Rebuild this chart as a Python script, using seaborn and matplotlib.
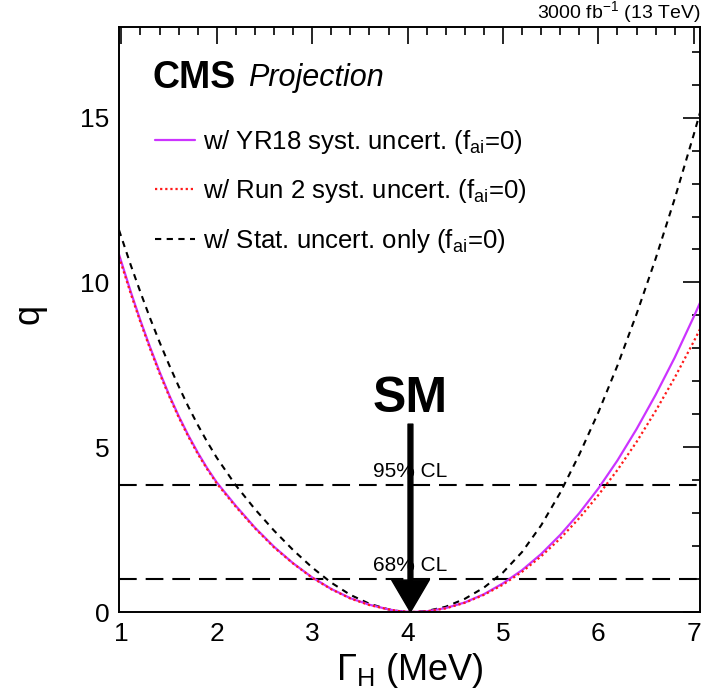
import matplotlib
matplotlib.use("Agg")
import matplotlib.pyplot as plt
from matplotlib.lines import Line2D
from matplotlib.ticker import MultipleLocator
import seaborn as sns

# Higgs width scan, test statistic q versus Gamma_H (MeV)
gamma_h = [0.975, 1.1, 1.2, 1.3, 1.4, 1.5, 1.6, 1.7, 1.8, 1.9, 2.0, 2.2, 2.4,
           2.6, 2.8, 3.0, 3.2, 3.4, 3.6, 3.8, 3.9, 4.05, 4.2, 4.4, 4.6, 4.8,
           5.0, 5.2, 5.4, 5.6, 5.8, 6.0, 6.2, 6.4, 6.6, 6.8, 7.0, 7.065]

q_yr18 = [10.85, 9.70, 8.84, 8.04, 7.29, 6.59, 5.95, 5.37, 4.84, 4.36, 3.93,
          3.22, 2.56, 1.98, 1.48, 1.05, 0.70, 0.42, 0.22, 0.08, 0.03, 0.0,
          0.02, 0.12, 0.29, 0.54, 0.87, 1.27, 1.76, 2.34, 3.00, 3.75, 4.60,
          5.55, 6.59, 7.72, 8.96, 9.38]

q_run2 = [10.78, 9.64, 8.79, 7.99, 7.24, 6.55, 5.91, 5.33, 4.80, 4.33, 3.90,
          3.19, 2.54, 1.96, 1.47, 1.04, 0.69, 0.41, 0.21, 0.08, 0.03, 0.0,
          0.02, 0.11, 0.28, 0.52, 0.83, 1.22, 1.69, 2.23, 2.85, 3.55, 4.31,
          5.16, 6.10, 7.11, 8.21, 8.58]

q_stat = [11.59, 10.51, 9.70, 8.92, 8.19, 7.50, 6.85, 6.24, 5.68, 5.16, 4.68,
          3.84, 3.12, 2.47, 1.88, 1.35, 0.89, 0.52, 0.25, 0.08, 0.03, 0.0,
          0.03, 0.16, 0.40, 0.74, 1.20, 1.82, 2.63, 3.62, 4.78, 6.06, 7.48,
          9.04, 10.72, 12.54, 14.49, 15.15]

series_labels = [
    r"w/ YR18 syst. uncert. (f$_{\rm ai}$=0)",
    r"w/ Run 2 syst. uncert. (f$_{\rm ai}$=0)",
    r"w/ Stat. uncert. only (f$_{\rm ai}$=0)",
]

cl_levels = [1.0, 3.84]
cl_labels = ["68% CL", "95% CL"]
gamma_sm = 4.05

sns.set_theme(style="white")
plt.rcParams["font.family"] = ["Liberation Sans", "DejaVu Sans"]
plt.rcParams["mathtext.fontset"] = "custom"
plt.rcParams["mathtext.rm"] = "Liberation Sans"
plt.rcParams["mathtext.it"] = "Liberation Sans:italic"
plt.rcParams["mathtext.bf"] = "Liberation Sans:bold"
for key in ["text.color", "axes.labelcolor", "xtick.color", "ytick.color",
            "axes.edgecolor"]:
    plt.rcParams[key] = "black"

fig = plt.figure(figsize=(7.05, 6.92), dpi=100)
ax = fig.add_axes([0.1688, 0.1156, 0.8241, 0.8454])

c_yr18 = "#CC33FF"
c_run2 = "#FF1A1A"
c_stat = "black"

# confidence-level reference lines
for lvl in cl_levels:
    ax.axhline(lvl, color="black", lw=1.5, dashes=(8.5, 4.3), zorder=1)

sns.lineplot(x=gamma_h, y=q_stat, ax=ax, color=c_stat, lw=1.5,
             estimator=None, sort=False)
ax.lines[-1].set_dashes((3.0, 2.6))
sns.lineplot(x=gamma_h, y=q_yr18, ax=ax, color=c_yr18, lw=1.6,
             estimator=None, sort=False)
sns.lineplot(x=gamma_h, y=q_run2, ax=ax, color=c_run2, lw=1.6,
             estimator=None, sort=False)
ax.lines[-1].set_dashes((1.0, 1.3))

ax.set_xlim(0.975, 7.065)
ax.set_ylim(0, 17.75)

ax.xaxis.set_major_locator(MultipleLocator(1))
ax.xaxis.set_minor_locator(MultipleLocator(0.2))
ax.yaxis.set_major_locator(MultipleLocator(5))
ax.yaxis.set_minor_locator(MultipleLocator(1))
ax.tick_params(which="both", direction="in", top=True, right=True,
               color="black", width=1.2)
ax.tick_params(which="major", length=12, labelsize=19, pad=7,
               labelcolor="black")
ax.tick_params(which="minor", length=6)
for sp in ax.spines.values():
    sp.set_color("black")
    sp.set_linewidth(1.4)

ax.set_xlabel("Γ$_{\\rm H}$ (MeV)", fontsize=26, labelpad=4, color="black")
ax.set_ylabel("q", fontsize=26, color="black")
ax.yaxis.set_label_coords(-0.125, 0.51)

# CL annotations
for lvl, txt in zip(cl_levels, cl_labels):
    ax.text(gamma_sm - 0.02, lvl + 0.12, txt, fontsize=15,
            ha="center", va="bottom", color="black")

# SM marker with arrow
ax.text(gamma_sm - 0.02, 6.45, "SM", fontsize=36, fontweight="bold",
        ha="center", va="center", color="black")
ax.annotate("", xy=(gamma_sm - 0.02, 0.0), xytext=(gamma_sm - 0.02, 5.7),
            arrowprops=dict(facecolor="black", edgecolor="black",
                            width=3.5, headwidth=27, headlength=23),
            zorder=5)

# headers
ax.text(0.058, 0.912, "CMS", transform=ax.transAxes, fontsize=27,
        fontweight="bold", ha="left", va="center", color="black")
ax.text(0.222, 0.912, "Projection", transform=ax.transAxes, fontsize=22,
        fontstyle="italic", ha="left", va="center", color="black")
fig.text(0.993, 1 - 18 / 692, r"3000 fb$^{-1}$ (13 TeV)", fontsize=14,
         ha="right", va="baseline", color="black")

handles = [
    Line2D([], [], color=c_yr18, lw=1.6),
    Line2D([], [], color=c_run2, lw=1.6, dashes=(1.0, 1.3)),
    Line2D([], [], color=c_stat, lw=1.5, dashes=(3.0, 2.6)),
]
ax.legend(handles, series_labels, loc="upper left",
          bbox_to_anchor=(0.062, 0.828), frameon=False, fontsize=18.5,
          handlelength=1.56, handletextpad=0.31, labelspacing=0.85,
          borderpad=0, borderaxespad=0, labelcolor="black")

fig.savefig("out.png", dpi=100)
